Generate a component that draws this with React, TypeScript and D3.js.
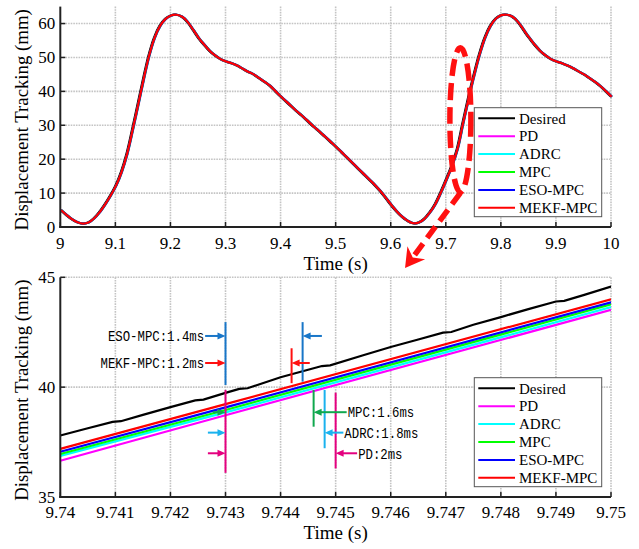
import * as d3 from 'd3'

const W = 639
const H = 549
const TOP = { left: 60.3, right: 611, top: 6.6, bottom: 227 }
const BOT = { left: 60.3, right: 611, top: 277.3, bottom: 497 }

const SERIES = ['Desired', 'PD', 'ADRC', 'MPC', 'ESO-MPC', 'MEKF-MPC']
const COLORS = ['#000000', '#ff00ff', '#00ffff', '#00ff00', '#0000ff', '#ff0000']
// response lag of each controller, ms (from the annotations)
const DELAY_MS = [0, 2, 1.8, 1.6, 1.4, 1.2]

const TOP_XTICKS = ['9', '9.1', '9.2', '9.3', '9.4', '9.5', '9.6', '9.7', '9.8', '9.9', '10']
const TOP_YTICKS = ['0', '10', '20', '30', '40', '50', '60']
const BOT_XTICKS = ['9.74', '9.741', '9.742', '9.743', '9.744', '9.745', '9.746', '9.747', '9.748', '9.749', '9.75']
const BOT_YTICKS = ['35', '40', '45']

// desired displacement, 9.00 .. 10.00 s every 10 ms
const TOP_T = d3.range(101).map((i) => 9 + i / 100)
const DESIRED_TOP = [
  5.0, 3.6, 2.3, 1.4, 1.0, 1.3, 2.5, 4.3, 6.6, 9.2,
  12.2, 16.2, 21.5, 28.5, 36.0, 43.5, 50.5, 55.8, 59.3, 61.4,
  62.4, 62.6, 62.0, 60.5, 58.2, 55.8, 53.8, 52.0, 50.6, 49.5,
  48.8, 48.3, 47.6, 46.7, 45.8, 45.0, 43.9, 42.8, 41.6, 40.0,
  38.4, 36.9, 35.4, 33.9, 32.5, 31.0, 29.5, 28.1, 26.6, 25.1,
  23.6, 22.0, 20.4, 18.8, 17.2, 15.6, 14.0, 12.4, 10.6, 8.6,
  6.5, 4.6, 3.0, 1.8, 1.1, 1.3, 2.4, 4.3, 6.8, 10.2,
  14.0, 18.0, 23.0, 30.5, 37.8, 44.6, 50.8, 55.8, 59.3, 61.5,
  62.5, 62.6, 62.0, 60.5, 58.2, 55.9, 53.8, 52.0, 50.6, 49.5,
  48.8, 48.3, 47.6, 46.8, 45.9, 45.0, 43.9, 42.8, 41.5, 40.0,
  38.4,
]

// zoomed window
const DES_BOT_T = [
  9.74, 9.7405, 9.74095, 9.7411, 9.7415, 9.742, 9.74245, 9.7426, 9.743, 9.74325,
  9.7434, 9.744, 9.7445, 9.74475, 9.7449, 9.7455, 9.746, 9.7465, 9.74695, 9.7471,
  9.7475, 9.748, 9.7485, 9.749, 9.74915, 9.7495, 9.75,
]
const DES_BOT_V = [
  37.8, 38.13, 38.42, 38.45, 38.74, 39.09, 39.4, 39.43, 39.74, 39.92,
  39.95, 40.45, 40.79, 40.96, 40.99, 41.45, 41.83, 42.17, 42.48, 42.51,
  42.84, 43.19, 43.55, 43.9, 43.93, 44.19, 44.58,
]
const BOT_T = [9.74, 9.743, 9.75]
const PD_BOT = [36.65, 38.72, 43.52]
const ADRC_BOT = [36.87, 38.85, 43.64]
const MPC_BOT = [36.96, 38.96, 43.77]
const ESO_BOT = [37.06, 39.08, 43.86]
const MEKF_BOT = [37.19, 39.23, 44.0]

// lag annotations (order PD, ADRC, MPC, ESO-MPC, MEKF-MPC)
const ANN_NAMES = ['PD', 'ADRC', 'MPC', 'ESO-MPC', 'MEKF-MPC']
const ANN_DELAY = [2, 1.8, 1.6, 1.4, 1.2]
const ANN_COLORS = ['#e4007f', '#1ab2ee', '#10a84e', '#1876c8', '#ff1010']
const ANN_T0 = 9.743
const ANN_Y = [36.99, 37.93, 38.86, 42.33, 41.1]
const ANN_RIGHT_TOP = [39.75, 39.87, 39.87, 42.96, 41.77]
const ANN_RIGHT_BOT = [36.3, 37.22, 38.2, 40.25, 40.18]
const ANN_LEFT_TAIL = [9.74268, 9.74268, 9.74277, 9.74263, 9.74263]
const ANN_RIGHT_TAIL = [9.74539, 9.74514, 9.7452, 9.74475, 9.74453]
const ANN_LEFT_TEXT = [false, false, false, true, true]

const SERIF = 'Liberation Serif, serif'
const MONO = 'Liberation Mono, monospace'

function Frame({ box, x, y, xticks, yticks, tickDy, labelY }) {
  const cy = (box.top + box.bottom) / 2 + 3
  return (
    <g>
      {xticks.slice(1).map((t) => (
        <line key={'gx' + t} x1={x(+t)} x2={x(+t)} y1={box.top} y2={box.bottom}
          stroke="#c4c4c4" strokeWidth={1.6} strokeDasharray="1.6 1" />
      ))}
      {yticks.slice(1).map((t) => (
        <line key={'gy' + t} x1={box.left} x2={box.right} y1={y(+t)} y2={y(+t)}
          stroke="#c4c4c4" strokeWidth={1.6} strokeDasharray="1.6 1" />
      ))}
      {xticks.map((t) => (
        <g key={'tx' + t}>
          <line x1={x(+t)} x2={x(+t)} y1={box.bottom} y2={box.bottom - 5} stroke="#222" strokeWidth={1.5} />
          <text x={x(+t)} y={box.bottom + tickDy} textAnchor="middle" style={{ fontSize: 17, fontFamily: SERIF }}>{t}</text>
        </g>
      ))}
      {yticks.map((t) => (
        <g key={'ty' + t}>
          <line x1={box.left} x2={box.left + 5} y1={y(+t)} y2={y(+t)} stroke="#222" strokeWidth={1.5} />
          <text x={box.left - 5} y={y(+t)} dy="0.33em" textAnchor="end" style={{ fontSize: 17, fontFamily: SERIF }}>{t}</text>
        </g>
      ))}
      <text x={(box.left + box.right) / 2} y={labelY} textAnchor="middle" style={{ fontSize: 19, fontFamily: SERIF }}>Time (s)</text>
      <text transform={`translate(28,${cy}) rotate(-90)`} textAnchor="middle" style={{ fontSize: 18.8, fontFamily: SERIF }}>
        Displacement Tracking (mm)
      </text>
    </g>
  )
}

function AxisLines({ box }) {
  return (
    <g stroke="#222" strokeWidth={2}>
      <line x1={box.left} x2={box.left} y1={box.top} y2={box.bottom + 1} />
      <line x1={box.left - 1} x2={box.right} y1={box.bottom} y2={box.bottom} />
    </g>
  )
}

function Legend({ x0, y0 }) {
  return (
    <g>
      <rect x={x0} y={y0} width={127.4} height={109} fill="#fff" stroke="#555" strokeWidth={1} />
      {SERIES.map((s, i) => (
        <g key={s}>
          <line x1={x0 + 4} x2={x0 + 40.7} y1={y0 + 10.6 + i * 17.9} y2={y0 + 10.6 + i * 17.9}
            stroke={COLORS[i]} strokeWidth={2} />
          <text x={x0 + 44.7} y={y0 + 10.6 + i * 17.9} dy="0.35em" style={{ fontSize: 15, fontFamily: SERIF }}>{s}</text>
        </g>
      ))}
    </g>
  )
}

function Arrow({ x1, x2, y, color }) {
  // line from x1 (tail) to x2 (tip)
  const d = Math.sign(x2 - x1)
  return (
    <g>
      <line x1={x1} x2={x2 - d * 6} y1={y} y2={y} stroke={color} strokeWidth={2} />
      <path d={`M${x2},${y} L${x2 - d * 8},${y - 3.5} L${x2 - d * 8},${y + 3.5} Z`} fill={color} />
    </g>
  )
}

export default function App() {
  const xt = d3.scaleLinear().domain([9, 10]).range([TOP.left, TOP.right])
  const yt = d3.scaleLinear().domain([0, 65]).range([TOP.bottom, TOP.top])
  const xb = d3.scaleLinear().domain([9.74, 9.75]).range([BOT.left, BOT.right])
  const yb = d3.scaleLinear().domain([35, 45]).range([BOT.bottom, BOT.top])

  const topLine = d3.line<[number, number]>().x((d) => xt(d[0])).y((d) => yt(d[1])).curve(d3.curveCatmullRom)
  const botLine = d3.line<[number, number]>().x((d) => xb(d[0])).y((d) => yb(d[1]))

  const topSeries = SERIES.map((_, i) =>
    TOP_T.map((t, j) => [t + DELAY_MS[i] / 1000, DESIRED_TOP[j]] as [number, number])
  )
  const botSeries = [
    DES_BOT_T.map((t, j) => [t, DES_BOT_V[j]]),
    ...[PD_BOT, ADRC_BOT, MPC_BOT, ESO_BOT, MEKF_BOT].map((vals) => BOT_T.map((t, j) => [t, vals[j]])),
  ] as [number, number][][]

  // zoom marker on top plot
  const ex = xt(9.7265)
  const ey = yt(31.6)
  const tip: [number, number] = [xt(9.626), yt(0) + 41]
  const tail: [number, number] = [ex, ey + 73]
  const dx = tip[0] - tail[0]
  const dy = tip[1] - tail[1]
  const len = Math.hypot(dx, dy)
  const ux = dx / len
  const uy = dy / len
  const base: [number, number] = [tip[0] - 19 * ux, tip[1] - 19 * uy]
  const notch: [number, number] = [tip[0] - 13 * ux, tip[1] - 13 * uy]
  const w1: [number, number] = [base[0] + 11 * -uy, base[1] + 11 * ux]
  const w2: [number, number] = [base[0] - 11 * -uy, base[1] - 11 * ux]
  const shaftEnd: [number, number] = [tip[0] - 14 * ux, tip[1] - 14 * uy]

  return (
    <svg width={W} height={H} style={{ position: 'absolute', left: 0, top: 0, background: '#fff' }}>
      <defs>
        <clipPath id="clipTop"><rect x={TOP.left} y={0} width={TOP.right - TOP.left + 2} height={TOP.bottom} /></clipPath>
        <clipPath id="clipBot"><rect x={BOT.left} y={BOT.top} width={BOT.right - BOT.left} height={BOT.bottom - BOT.top} /></clipPath>
      </defs>

      <Frame box={TOP} x={xt} y={yt} xticks={TOP_XTICKS} yticks={TOP_YTICKS} tickDy={21.5} labelY={270} />
      <g clipPath="url(#clipTop)" fill="none">
        {topSeries.map((pts, i) => (
          <path key={SERIES[i]} d={topLine(pts) || ''} stroke={COLORS[i]} strokeWidth={2.2} />
        ))}
      </g>
      <AxisLines box={TOP} />

      <ellipse cx={ex} cy={ey} rx={10.5} ry={72} fill="none" stroke="#ff1010" strokeWidth={5.5} strokeDasharray="17 7" />
      <line x1={tail[0]} y1={tail[1]} x2={shaftEnd[0]} y2={shaftEnd[1]} stroke="#ff1010" strokeWidth={5.5} strokeDasharray="14 7" />
      <path d={`M${tip[0]},${tip[1]} L${w1[0]},${w1[1]} L${notch[0]},${notch[1]} L${w2[0]},${w2[1]} Z`} fill="#ff1010" />

      <Legend x0={474.3} y0={107.7} />

      <Frame box={BOT} x={xb} y={yb} xticks={BOT_XTICKS} yticks={BOT_YTICKS} tickDy={20.5} labelY={539} />
      <g clipPath="url(#clipBot)" fill="none">
        {botSeries.map((pts, i) => (
          <path key={SERIES[i]} d={botLine(pts) || ''} stroke={COLORS[i]} strokeWidth={2.2} />
        ))}
      </g>
      <AxisLines box={BOT} />

      {/* lag annotations */}
      <line x1={xb(ANN_T0)} x2={xb(ANN_T0)} y1={yb(42.96)} y2={yb(40.1)} stroke={ANN_COLORS[3]} strokeWidth={2} />
      <line x1={xb(ANN_T0)} x2={xb(ANN_T0)} y1={yb(39.87)} y2={yb(36.1)} stroke={ANN_COLORS[0]} strokeWidth={2} />
      {ANN_NAMES.map((n, i) => {
        const xr = xb(ANN_T0 + ANN_DELAY[i] / 1000)
        const label = `${n}:${ANN_DELAY[i] === 2 ? '2' : ANN_DELAY[i].toFixed(1)}ms`
        const tw = label.length * 7.4
        return (
          <g key={n}>
            <line x1={xr} x2={xr} y1={yb(ANN_RIGHT_TOP[i])} y2={yb(ANN_RIGHT_BOT[i])} stroke={ANN_COLORS[i]} strokeWidth={2} />
            <Arrow x1={xb(ANN_LEFT_TAIL[i])} x2={xb(ANN_T0)} y={yb(ANN_Y[i])} color={ANN_COLORS[i]} />
            <Arrow x1={xb(ANN_RIGHT_TAIL[i])} x2={xr} y={yb(ANN_Y[i])} color={ANN_COLORS[i]} />
            {ANN_LEFT_TEXT[i] ? (
              <text x={xb(ANN_LEFT_TAIL[i]) - 1} y={yb(ANN_Y[i])} dy="0.35em" textAnchor="end"
                style={{ fontSize: 15, fontFamily: MONO }} textLength={tw} lengthAdjust="spacingAndGlyphs">{label}</text>
            ) : (
              <text x={xb(ANN_RIGHT_TAIL[i]) + 1} y={yb(ANN_Y[i])} dy="0.35em"
                style={{ fontSize: 15, fontFamily: MONO }} textLength={tw} lengthAdjust="spacingAndGlyphs">{label}</text>
            )}
          </g>
        )
      })}

      <Legend x0={474.3} y0={377.7} />
    </svg>
  )
}
